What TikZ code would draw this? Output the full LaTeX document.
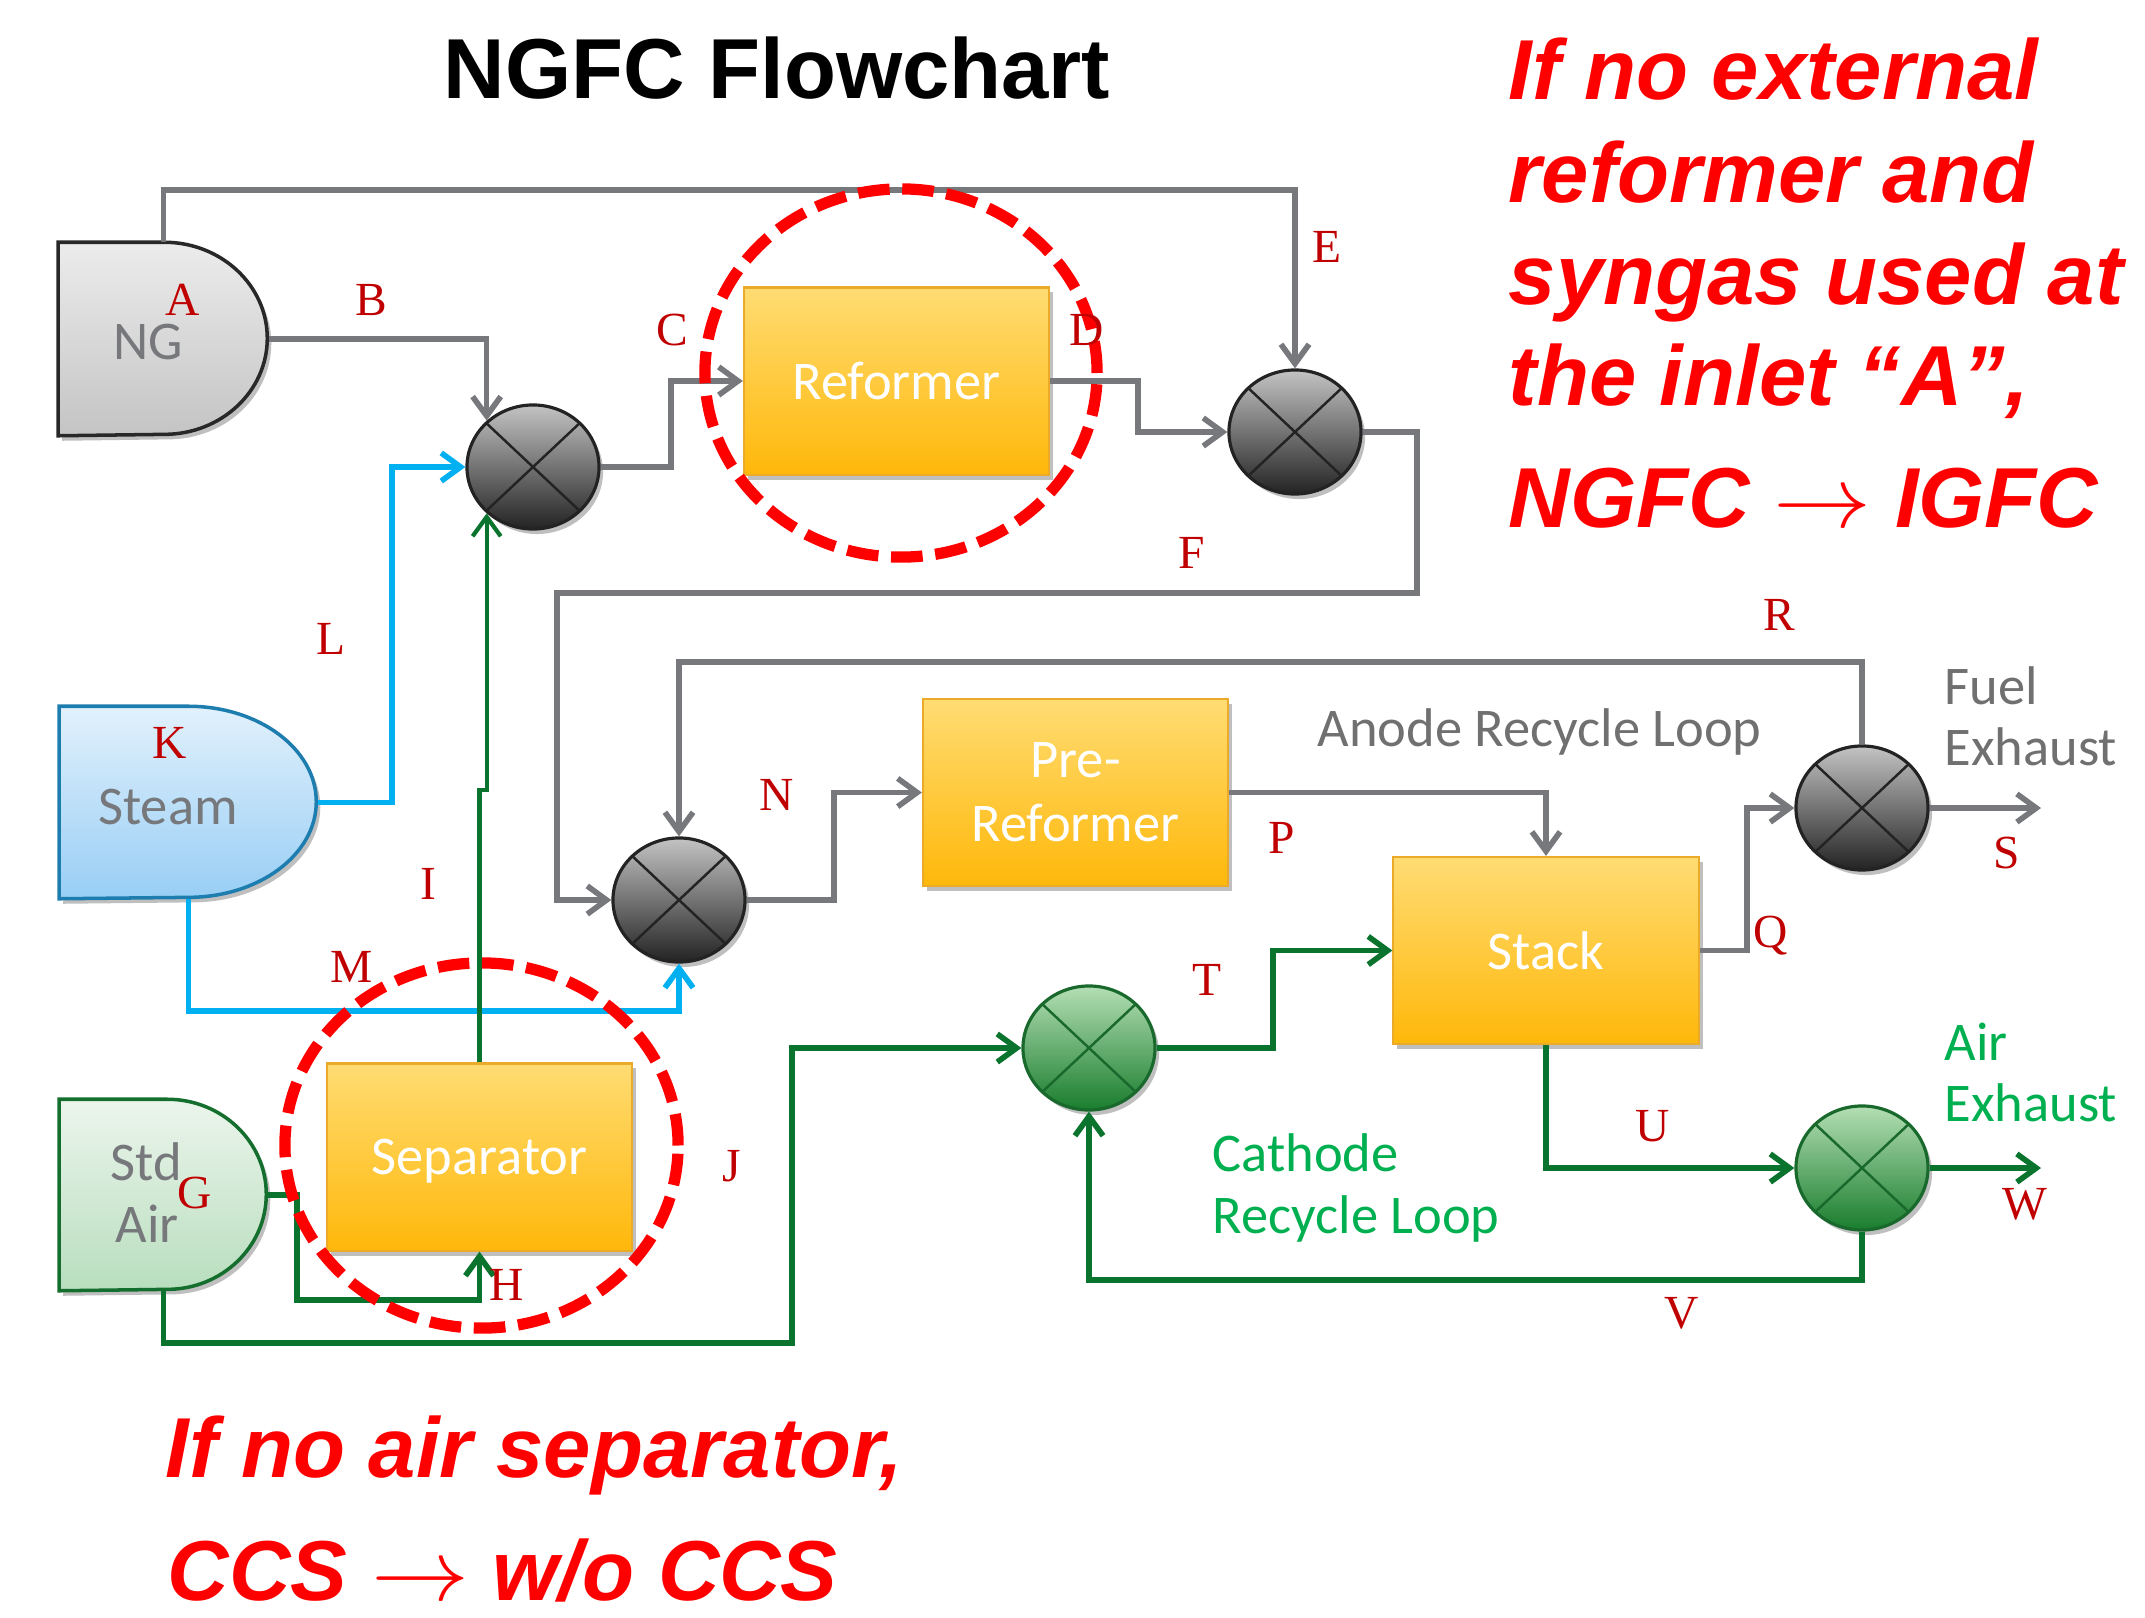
\documentclass[tikz,border=0pt]{standalone}
\usepackage{fontspec}
\usepackage{graphicx}
\setmainfont{Liberation Serif}
\newfontfamily\calib{Carlito}
\newfontfamily\arialf{Liberation Sans}
\usetikzlibrary{arrows.meta,shadows,shapes.geometric}
\definecolor{lineg}{RGB}{118,120,124}
\definecolor{lineb}{RGB}{0,176,240}
\definecolor{linegr}{RGB}{10,115,45}
\definecolor{txtgr}{RGB}{0,176,80}
\definecolor{txtg}{RGB}{112,112,112}
\definecolor{lblred}{RGB}{192,0,0}
\definecolor{notered}{RGB}{255,0,0}
\definecolor{boxtop}{RGB}{255,220,115}
\definecolor{boxbot}{RGB}{255,184,10}
\definecolor{boxbd}{RGB}{235,170,40}
\definecolor{mixgtop}{RGB}{195,195,195}
\definecolor{mixgbot}{RGB}{35,35,35}
\definecolor{mixgbd}{RGB}{35,35,35}
\definecolor{mixrtop}{RGB}{180,222,180}
\definecolor{mixrbot}{RGB}{25,125,45}
\definecolor{mixrbd}{RGB}{25,105,45}
\definecolor{ngtop}{RGB}{236,236,236}
\definecolor{ngbot}{RGB}{196,196,196}
\definecolor{ngbd}{RGB}{40,40,40}
\definecolor{sttop}{RGB}{226,241,252}
\definecolor{stbot}{RGB}{152,206,245}
\definecolor{stbd}{RGB}{30,125,175}
\definecolor{satop}{RGB}{236,245,236}
\definecolor{sabot}{RGB}{184,222,190}
\definecolor{sabd}{RGB}{20,110,45}
\begin{document}
\begin{tikzpicture}[x=0.01cm,y=-0.01cm,
  every node/.style={inner sep=0pt},
  conn/.style={line width=1.6pt,-{Straight Barb[length=5.5pt,width=8pt]}},
  gconn/.style={conn,draw=lineg},
  bconn/.style={conn,draw=lineb},
  grconn/.style={conn,draw=linegr},
  shad/.style={drop shadow={shadow xshift=0.04cm,shadow yshift=-0.05cm,opacity=0.25,fill=black}},
  mixer/.style={ellipse,minimum width=1.32cm,minimum height=1.24cm,line width=0.9pt,shad},
  gmix/.style={mixer,draw=mixgbd,top color=mixgtop,bottom color=mixgbot,
     path picture={\draw[mixgbd,line width=0.7pt]
       (path picture bounding box.north west) -- (path picture bounding box.south east)
       (path picture bounding box.north east) -- (path picture bounding box.south west);}},
  rmix/.style={mixer,draw=mixrbd,top color=mixrtop,bottom color=mixrbot,
     path picture={\draw[mixrbd,line width=0.7pt]
       (path picture bounding box.north west) -- (path picture bounding box.south east)
       (path picture bounding box.north east) -- (path picture bounding box.south west);}},
  proc/.style={rectangle,minimum width=3.05cm,minimum height=1.87cm,draw=boxbd,line width=0.6pt,
     top color=boxtop,bottom color=boxbot,text=white,align=center,
     font=\calib\fontsize{15.5}{18.2}\selectfont,shad},
  srctxt/.style={font=\calib\fontsize{15.5}{18.2}\selectfont,text=lineg},
  looptxt/.style={font=\calib\fontsize{15.5}{18.2}\selectfont,anchor=base west},
  lbl/.style={text=lblred,font=\fontsize{13.5}{16}\selectfont},
  note/.style={text=notered,anchor=base west,font=\arialf\bfseries\itshape\fontsize{24.2}{29}\selectfont},
  hl/.style={draw=notered,line width=3.2pt,dash pattern=on 9pt off 3.6pt}
]
\useasboundingbox (0,0) rectangle (2145,1618);

% title
\node[font=\arialf\bfseries\fontsize{24.2}{29}\selectfont,anchor=base] (title) at (777,98) {NGFC Flowchart};

% source anchor boxes
\node[minimum width=2.09cm,minimum height=1.92cm] (ng) at (163.5,339) {};
\node[minimum width=2.57cm,minimum height=1.91cm] (st) at (188.5,802.5) {};
\node[minimum width=2.07cm,minimum height=1.90cm] (sa) at (163.5,1195) {};

% source shapes
\path[draw=ngbd,line width=1pt,top color=ngtop,bottom color=ngbot,shad]
  (ng.north west) -- ++(106,0) arc[start angle=90,end angle=-90,x radius=1.03cm,y radius=0.96cm]
  -- (ng.south west) -- cycle;
\path[draw=stbd,line width=1pt,top color=sttop,bottom color=stbot,shad]
  (st.north west) -- ++(129,0) arc[start angle=90,end angle=-90,x radius=1.28cm,y radius=0.955cm]
  -- (st.south west) -- cycle;
\path[draw=sabd,line width=1pt,top color=satop,bottom color=sabot,shad]
  (sa.north west) -- ++(108,0) arc[start angle=90,end angle=-90,x radius=0.99cm,y radius=0.95cm]
  -- (sa.south west) -- cycle;

\node[srctxt] (ngt) at (148,342) {NG};
\node[srctxt] (stt) at (168,807) {Steam};
\node[srctxt,anchor=base] (sat1) at (146,1180) {Std};
\node[srctxt,anchor=base] (sat2) at (147,1242) {Air};

% process boxes
\node[proc] (ref) at (896.5,381) {Reformer};
\node[proc] (pre) at (1075.5,792.5) {Pre-\\Reformer};
\node[proc] (stack) at (1546,950.5) {Stack};
\node[proc,text depth=0pt] (sep) at (479.5,1157) {Separator};

% mixers
\node[gmix] (m1) at (533,467) {};
\node[gmix] (m2) at (1295,432) {};
\node[gmix] (m3) at (679,900) {};
\node[rmix] (m4) at (1089,1048) {};
\node[gmix] (m5) at (1862,808) {};
\node[rmix] (m6) at (1862,1168) {};

\coordinate (sout) at (2041,808);
\coordinate (wout) at (2041,1168);

% gray connectors
\draw[gconn] (ng.north) -- ++(0,-52) -| (m2.north);
\draw[gconn] (ng.east) -| (m1.135);
\draw[gconn] (m1.east) -- (671,467) |- (ref.west);
\draw[gconn] (ref.east) -- (1138,381) |- (m2.west);
\draw[gconn] (m2.east) -| (1417,593) -| (557,900) -- (m3.west);
\draw[gconn] (m5.north) -- (1862,662) -| (m3.north);
\draw[gconn] (m3.east) -- (834,900) |- (pre.west);
\draw[gconn] (pre.east) -| (stack.north);
\draw[gconn] (stack.east) -- (1747,950.5) |- (m5.west);
\draw[gconn] (m5.east) -- (sout);

% blue connectors
\draw[bconn] (st.east) -- (392,802.5) |- (m1.west);
\draw[bconn] (st.south) |- (679,1011) -- (m3.south);

% green connectors
\draw[grconn] (m4.east) -- (1273,1048) |- (stack.west);
\draw[grconn] (stack.south) |- (m6.west);
\draw[grconn] (m6.east) -- (wout);
\draw[grconn] (m6.south) -- (1862,1280) -| (m4.south);
\draw[grconn] (sa.south) -- (163.5,1343) -| (792,1048) -- (m4.west);
\draw[grconn] (sa.east) -- (297,1195) |- (479.5,1300) -- (sep.south);
\draw[grconn,line width=1.2pt] (sep.north) -- (479.5,790) -| (m1.225);

% loop texts
\node[looptxt,text=txtg] (anode) at (1317,746) {Anode Recycle Loop};
\node[looptxt,text=txtg] (fuel1) at (1944,704) {Fuel};
\node[looptxt,text=txtg] (fuel2) at (1944,765) {Exhaust};
\node[looptxt,text=txtgr] (air1) at (1944,1060) {Air};
\node[looptxt,text=txtgr] (air2) at (1944,1121) {Exhaust};
\node[looptxt,text=txtgr] (cat1) at (1212,1171) {Cathode};
\node[looptxt,text=txtgr] (cat2) at (1212,1233) {Recycle Loop};

% highlight ellipses
\draw[hl] (901,373) ellipse[x radius=1.96cm,y radius=1.84cm];
\draw[hl] (481.5,1145.5) ellipse[x radius=1.965cm,y radius=1.825cm];

% stream labels
\node[lbl] (la) at (183,300) {A};
\node[lbl] (lb) at (371,300) {B};
\node[lbl] (lc) at (672,330) {C};
\node[lbl] (ld) at (1087,330) {D};
\node[lbl] (le) at (1327,247) {E};
\node[lbl] (lf) at (1192,553) {F};
\node[lbl] (lg) at (195,1193) {G};
\node[lbl] (lh) at (507,1285) {H};
\node[lbl] (li) at (428,884) {I};
\node[lbl] (lj) at (732,1166) {J};
\node[lbl] (lk) at (170,743) {K};
\node[lbl] (ll) at (331,639) {L};
\node[lbl] (lm) at (352,967) {M};
\node[lbl] (ln) at (777,795) {N};
\node[lbl] (lp) at (1282,838) {P};
\node[lbl] (lq) at (1771,936) {Q};
\node[lbl] (lr) at (1779,615) {R};
\node[lbl] (ls) at (2007,853) {S};
\node[lbl] (lt) at (1207,980) {T};
\node[lbl] (lu) at (1653,1126) {U};
\node[lbl] (lv) at (1682,1313) {V};
\node[lbl] (lw) at (2025,1204) {W};

% notes
\node[note] (n1) at (1508,100) {If no external};
\node[note] (n2) at (1508,202) {reformer and};
\node[note] (n3) at (1508,304) {syngas used at};
\node[note] (n4) at (1508,405) {the inlet “A”,};
\node[note] (n5) at (1508,527) {NGFC \scalebox{1.12}[1]{$\rightarrow$} IGFC};
\node[note] (b1) at (165,1477) {If no air separator,};
\node[note] (b2) at (167,1600) {CCS \scalebox{1.12}[1]{$\rightarrow$} w/o CCS};
\end{tikzpicture}
\end{document}
